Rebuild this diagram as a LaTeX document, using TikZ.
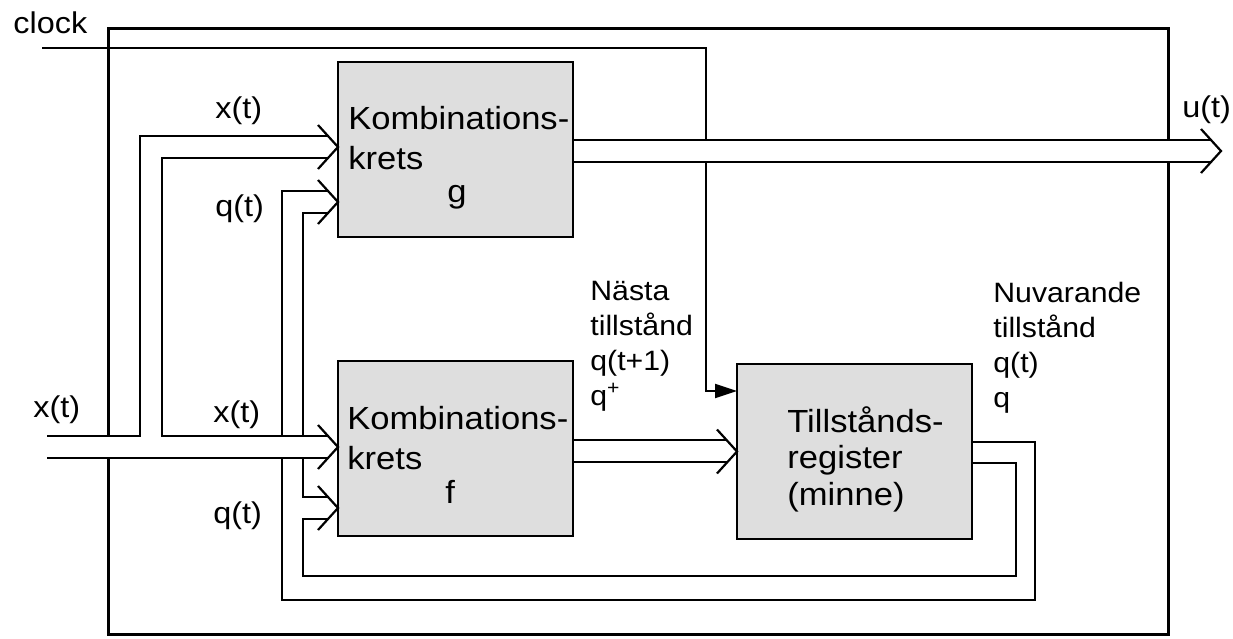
\documentclass[tikz,border=0pt]{standalone}
\usepackage{fontspec}
\setmainfont{Liberation Sans}[FakeStretch=1.08]
\usetikzlibrary{arrows.meta, calc}

\begin{document}
\begin{tikzpicture}[x=0.5pt, y=-0.5pt,
    wire/.style={line width=1.1pt},
    frame/.style={line width=1.5pt},
    block/.style={draw, line width=1.3pt, fill=black!13, anchor=north west,
      minimum width=117.5pt, minimum height=87.5pt, inner sep=0pt, outer sep=0pt},
    lbl/.style={inner sep=0pt, anchor=base west, font=\fontsize{15}{18}\selectfont},
    note/.style={inner sep=0pt, anchor=base west, font=\fontsize{14}{17.5}\selectfont},
    btxt/.style={inner sep=0pt, anchor=base west, font=\fontsize{16}{20}\selectfont}]
  \useasboundingbox (0,0) rectangle (1233,638);

  % system frame, open where the buses pass through
  \draw[frame] (108,436) -- (108,28) -- (1168,28) -- (1168,140);
  \draw[frame] (1168,162) -- (1168,634) -- (108,634) -- (108,458);

  \node[block] (g) at (338,62) {};
  \node[block] (f) at (338,361) {};
  \node[block] (reg) at (737,364) {};

  \node[btxt] (gtxt) at (348,129) {\parbox[t]{130pt}{Kombinations-\\krets\\[-3.5pt]\hspace*{49.5pt}g}};
  \node[btxt] (ftxt) at (347,429) {\parbox[t]{130pt}{Kombinations-\\krets\\[-3pt]\hspace*{49pt}f}};
  \node[btxt, font=\fontsize{16}{18.25}\selectfont] (regtxt) at (787,432) {\parbox[t]{100pt}{Tillstånds-\\register\\(minne)}};

  \node[lbl] (clock) at (13,33) {clock};
  \node[lbl] (xin) at (33,417) {x(t)};
  \node[lbl] (xg) at (215,118) {x(t)};
  \node[lbl] (qg) at (215,216) {q(t)};
  \node[lbl] (xf) at (213,422) {x(t)};
  \node[lbl] (qf) at (213,523) {q(t)};
  \node[lbl] (u) at (1182,117) {u(t)};
  \node[note] (next) at (590,300) {\parbox[t]{100pt}{Nästa\\tillstånd\\q(t+1)\\q\textsuperscript{+}}};
  \node[note] (now) at (993,302) {\parbox[t]{100pt}{Nuvarande\\tillstånd\\q(t)\\q}};

  % clock
  \coordinate (clk) at (42,48);
  \coordinate (rclk) at (reg.west |- 0,391);
  \draw[wire] (clk) -| (706,140);
  \draw[wire, -{Triangle[length=11pt, width=7pt]}] (706,162) |- (rclk);

  % bus tips
  \coordinate (gx) at (g.west |- 0,147);
  \coordinate (gq) at (g.west |- 0,202);
  \coordinate (fx) at (f.west |- 0,447);
  \coordinate (fq) at (f.west |- 0,508);
  \coordinate (rin) at (reg.west);
  \coordinate (uout) at (1221,151);
  \foreach \t in {gx,gq,fx,fq,rin,uout}
    \draw[wire] ($(\t)+(-20,-22)$) -- (\t) -- ($(\t)+(-20,22)$);

  % x(t) in, split to g and f
  \draw[wire] (47,436) -| (140,136) -- (328,136);
  \draw[wire] (47,458) -- (328,458);
  \draw[wire] (328,158) -| (162,436) -- (328,436);

  % g -> u(t)
  \draw[wire] (g.east |- 0,140) -- (1211,140);
  \draw[wire] (g.east |- 0,162) -- (1211,162);

  % f -> register
  \draw[wire] (f.east |- 0,440) -- (727,440);
  \draw[wire] (f.east |- 0,462) -- (727,462);

  % feedback q(t)
  \draw[wire] (reg.east |- 0,442) -| (1035,600) -| (282,458);
  \draw[wire] (282,436) |- (328,191);
  \draw[wire] (reg.east |- 0,463) -| (1016,576) -| (303,519) -- (328,519);
  \draw[wire] (328,497) -| (303,458);
  \draw[wire] (303,436) |- (328,213);
\end{tikzpicture}
\end{document}
